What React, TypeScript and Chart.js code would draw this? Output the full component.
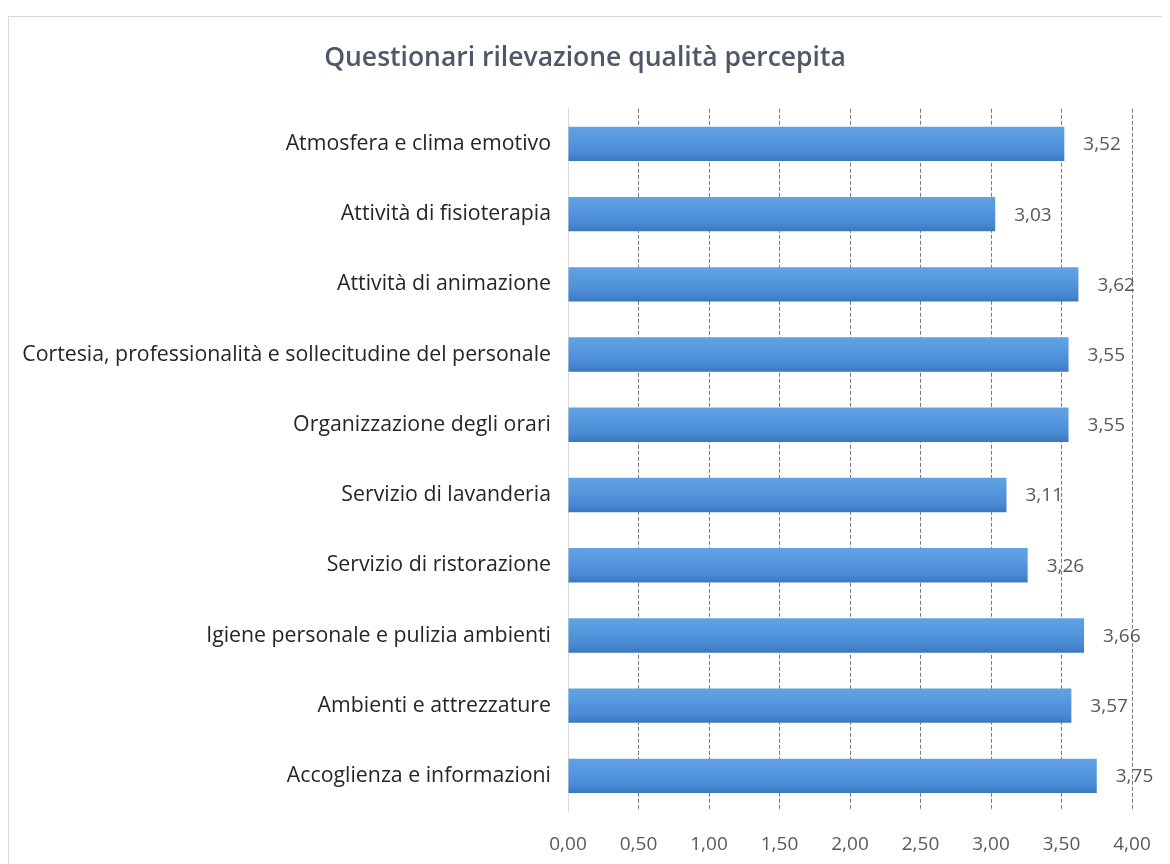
import React, { useEffect, useRef } from "react";
import { Chart, registerables } from "chart.js";

Chart.register(...registerables);

const categories = [
  "Atmosfera e clima emotivo",
  "Attività di fisioterapia",
  "Attività di animazione",
  "Cortesia, professionalità e sollecitudine del personale",
  "Organizzazione degli orari",
  "Servizio di lavanderia",
  "Servizio di ristorazione",
  "Igiene personale e pulizia ambienti",
  "Ambienti e attrezzature",
  "Accoglienza e informazioni",
];

const values = [3.52, 3.03, 3.62, 3.55, 3.55, 3.11, 3.26, 3.66, 3.57, 3.75];

const titleText = "Questionari rilevazione qualità percepita";

const FONT = "'Open Sans', 'Noto Sans', sans-serif";

const fmt = (v: number) => v.toFixed(2).replace(".", ",");

const gradientPlugin = {
  id: "barGradient",
  beforeDatasetsDraw(chart: any) {
    const ctx = chart.ctx;
    chart.getSortedVisibleDatasetMetas().forEach((meta: any) => {
      meta.data.forEach((el: any) => {
        const { y, height } = el.getProps(["y", "height"], true);
        const top = y - height / 2;
        const bottom = y + height / 2;
        const g = ctx.createLinearGradient(0, top, 0, bottom);
        g.addColorStop(0, "#62a2e2");
        g.addColorStop(0.3, "#579be0");
        g.addColorStop(0.75, "#4a8bd4");
        g.addColorStop(1, "#3a77bf");
        el.options = Object.assign({}, el.options, { backgroundColor: g });
      });
    });
  },
};

const labelPlugin = {
  id: "valueLabels",
  afterDatasetsDraw(chart: any) {
    const ctx = chart.ctx;
    const meta = chart.getDatasetMeta(0);
    ctx.save();
    ctx.font = `19px ${FONT}`;
    ctx.fillStyle = "#595959";
    ctx.textAlign = "left";
    ctx.textBaseline = "middle";
    meta.data.forEach((el: any, i: number) => {
      const { x, y } = el.getProps(["x", "y"], true);
      ctx.fillText(fmt(values[i]), x + 19, y + 1);
    });
    ctx.restore();
  },
};

export default function App() {
  const ref = useRef<HTMLCanvasElement | null>(null);

  useEffect(() => {
    if (!ref.current) return;
    const chart = new Chart(ref.current, {
      type: "bar",
      data: {
        labels: categories,
        datasets: [
          {
            data: values,
            backgroundColor: () => "#5b9bd5",
            borderWidth: 0,
            barPercentage: 0.49,
            categoryPercentage: 1,
          },
        ],
      },
      options: {
        indexAxis: "y",
        animation: false,
        responsive: false,
        maintainAspectRatio: false,
        layout: { padding: { left: 0, right: 9, top: 0, bottom: 0 } },
        plugins: {
          legend: { display: false },
          tooltip: { enabled: false },
          title: {
            display: true,
            text: titleText,
            color: "#4d5968",
            font: { family: FONT, size: 26.5, weight: "600" },
            padding: { top: 26, bottom: 34 },
          },
        },
        scales: {
          x: {
            min: 0,
            max: 4,
            afterFit: (scale: any) => {
              scale.height = 53;
              scale.paddingRight = 38;
            },
            ticks: {
              stepSize: 0.5,
              color: "#595959",
              font: { family: FONT, size: 19 },
              padding: 22,
              callback: (v: any) => fmt(Number(v)),
            },
            grid: {
              drawTicks: false,
              color: (c: any) => (c.tick && c.tick.value === 0 ? "rgba(0,0,0,0)" : "#7a7a7a"),
              lineWidth: 1,
            },
            border: { display: false, dash: [4, 2] },
          },
          y: {
            afterFit: (scale: any) => {
              scale.width = 559;
            },
            ticks: {
              color: "#262626",
              font: { family: FONT, size: 21.3 },
              padding: 17,
            },
            grid: { display: false, drawTicks: false },
            border: { display: true, color: "#d9d9d9", width: 1 },
          },
        },
      },
      plugins: [gradientPlugin, labelPlugin],
    });
    return () => chart.destroy();
  }, []);

  return (
    <div
      style={{
        marginTop: 8,
        width: 1162,
        height: 848,
        borderTop: "1px solid #d9d9d9",
        borderLeft: "1px solid #d9d9d9",
        boxSizing: "border-box",
        overflow: "hidden",
        background: "#fff",
      }}
    >
      <canvas ref={ref} width={1161} height={847} style={{ display: "block" }} />
    </div>
  );
}
